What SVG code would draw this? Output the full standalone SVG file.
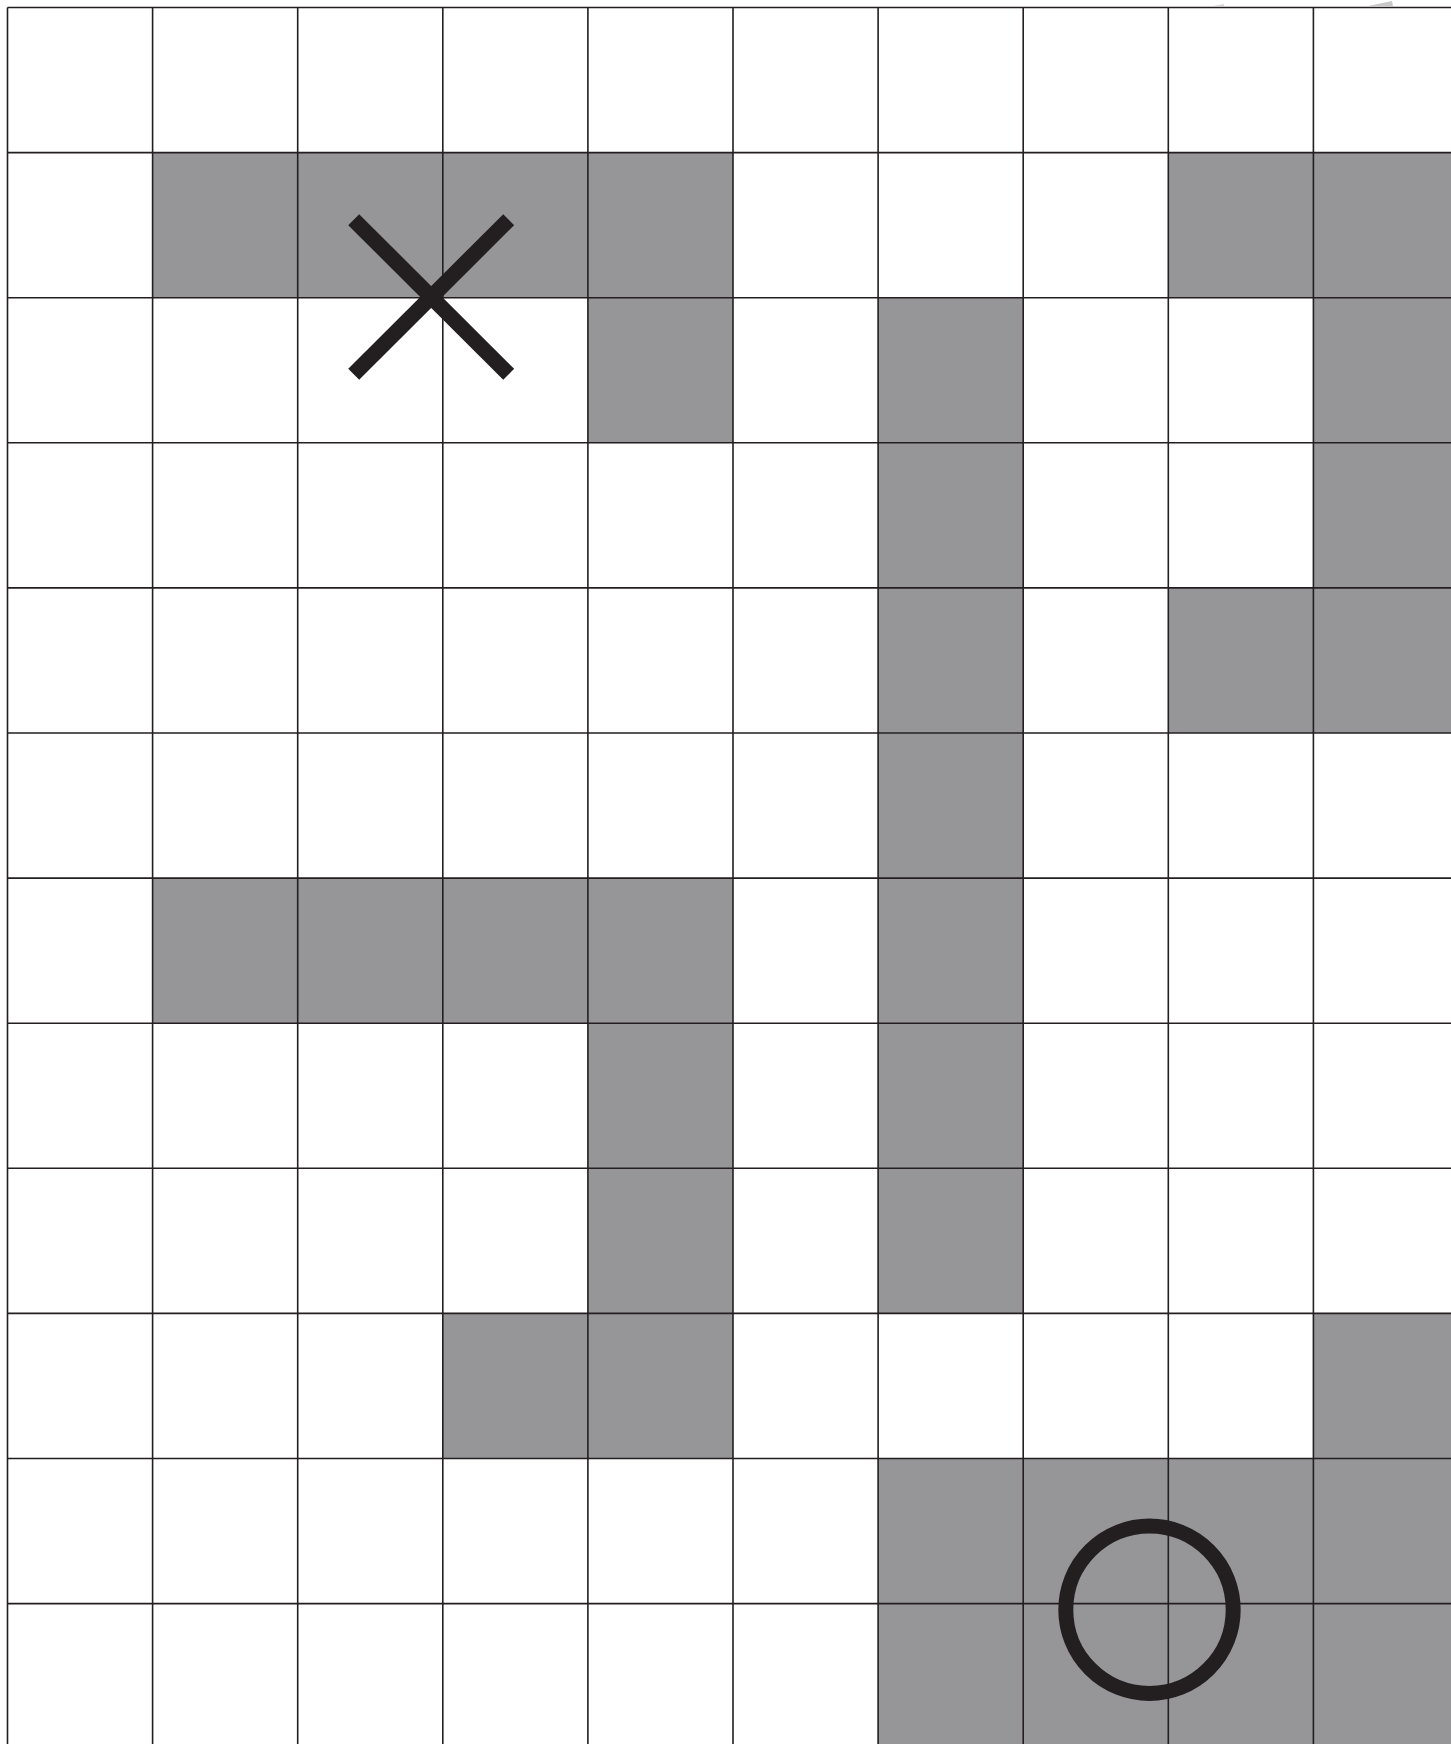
<svg xmlns="http://www.w3.org/2000/svg" width="1451" height="1744" viewBox="0 0 1451 1744">
<style>
.g{fill:#969698;stroke:none}
.ln{stroke:#231f20;stroke-width:1.6;fill:none}
.mk{stroke:#231f20;fill:none}
</style>
<rect x="0" y="0" width="1451" height="1744" fill="#ffffff"/>
<g id="shaded-cells">
<rect class="g" x="152.6" y="152.6" width="145.1" height="145.1"/>
<rect class="g" x="297.7" y="152.6" width="145.1" height="145.1"/>
<rect class="g" x="442.8" y="152.6" width="145.1" height="145.1"/>
<rect class="g" x="587.9" y="152.6" width="145.1" height="145.1"/>
<rect class="g" x="1168.3" y="152.6" width="145.1" height="145.1"/>
<rect class="g" x="1313.4" y="152.6" width="145.1" height="145.1"/>
<rect class="g" x="587.9" y="297.7" width="145.1" height="145.1"/>
<rect class="g" x="878.1" y="297.7" width="145.1" height="145.1"/>
<rect class="g" x="1313.4" y="297.7" width="145.1" height="145.1"/>
<rect class="g" x="878.1" y="442.8" width="145.1" height="145.1"/>
<rect class="g" x="1313.4" y="442.8" width="145.1" height="145.1"/>
<rect class="g" x="878.1" y="587.9" width="145.1" height="145.1"/>
<rect class="g" x="1168.3" y="587.9" width="145.1" height="145.1"/>
<rect class="g" x="1313.4" y="587.9" width="145.1" height="145.1"/>
<rect class="g" x="878.1" y="733" width="145.1" height="145.1"/>
<rect class="g" x="152.6" y="878.1" width="145.1" height="145.1"/>
<rect class="g" x="297.7" y="878.1" width="145.1" height="145.1"/>
<rect class="g" x="442.8" y="878.1" width="145.1" height="145.1"/>
<rect class="g" x="587.9" y="878.1" width="145.1" height="145.1"/>
<rect class="g" x="878.1" y="878.1" width="145.1" height="145.1"/>
<rect class="g" x="587.9" y="1023.2" width="145.1" height="145.1"/>
<rect class="g" x="878.1" y="1023.2" width="145.1" height="145.1"/>
<rect class="g" x="587.9" y="1168.3" width="145.1" height="145.1"/>
<rect class="g" x="878.1" y="1168.3" width="145.1" height="145.1"/>
<rect class="g" x="442.8" y="1313.4" width="145.1" height="145.1"/>
<rect class="g" x="587.9" y="1313.4" width="145.1" height="145.1"/>
<rect class="g" x="1313.4" y="1313.4" width="145.1" height="145.1"/>
<rect class="g" x="878.1" y="1458.5" width="580.4" height="145.1"/>
<rect class="g" x="878.1" y="1603.6" width="580.4" height="145.1"/>
</g>
<g id="grid-lines">
<line class="ln" x1="7.5" y1="7.5" x2="7.5" y2="1744"/>
<line class="ln" x1="152.6" y1="7.5" x2="152.6" y2="1744"/>
<line class="ln" x1="297.7" y1="7.5" x2="297.7" y2="1744"/>
<line class="ln" x1="442.8" y1="7.5" x2="442.8" y2="1744"/>
<line class="ln" x1="587.9" y1="7.5" x2="587.9" y2="1744"/>
<line class="ln" x1="733" y1="7.5" x2="733" y2="1744"/>
<line class="ln" x1="878.1" y1="7.5" x2="878.1" y2="1744"/>
<line class="ln" x1="1023.2" y1="7.5" x2="1023.2" y2="1744"/>
<line class="ln" x1="1168.3" y1="7.5" x2="1168.3" y2="1744"/>
<line class="ln" x1="1313.4" y1="7.5" x2="1313.4" y2="1744"/>
<line class="ln" x1="7.5" y1="7.5" x2="1451" y2="7.5"/>
<line class="ln" x1="7.5" y1="152.6" x2="1451" y2="152.6"/>
<line class="ln" x1="7.5" y1="297.7" x2="1451" y2="297.7"/>
<line class="ln" x1="7.5" y1="442.8" x2="1451" y2="442.8"/>
<line class="ln" x1="7.5" y1="587.9" x2="1451" y2="587.9"/>
<line class="ln" x1="7.5" y1="733" x2="1451" y2="733"/>
<line class="ln" x1="7.5" y1="878.1" x2="1451" y2="878.1"/>
<line class="ln" x1="7.5" y1="1023.2" x2="1451" y2="1023.2"/>
<line class="ln" x1="7.5" y1="1168.3" x2="1451" y2="1168.3"/>
<line class="ln" x1="7.5" y1="1313.4" x2="1451" y2="1313.4"/>
<line class="ln" x1="7.5" y1="1458.5" x2="1451" y2="1458.5"/>
<line class="ln" x1="7.5" y1="1603.6" x2="1451" y2="1603.6"/>
</g>
<g id="edge-marks">
<polygon points="1368,6 1392,1 1393,6" fill="#c8c8c8"/>
<polygon points="1213,6 1224,4 1224,6" fill="#d8d8d8"/>
</g>
<g id="cross-mark">
<line class="mk" stroke-width="15.5" x1="353.7" y1="219.7" x2="508.7" y2="374.3"/>
<line class="mk" stroke-width="15.5" x1="508.7" y1="219.7" x2="353.7" y2="374.3"/>
</g>
<g id="circle-mark">
<circle class="mk" stroke-width="15" cx="1149.5" cy="1609.7" r="83.7"/>
</g>
</svg>
